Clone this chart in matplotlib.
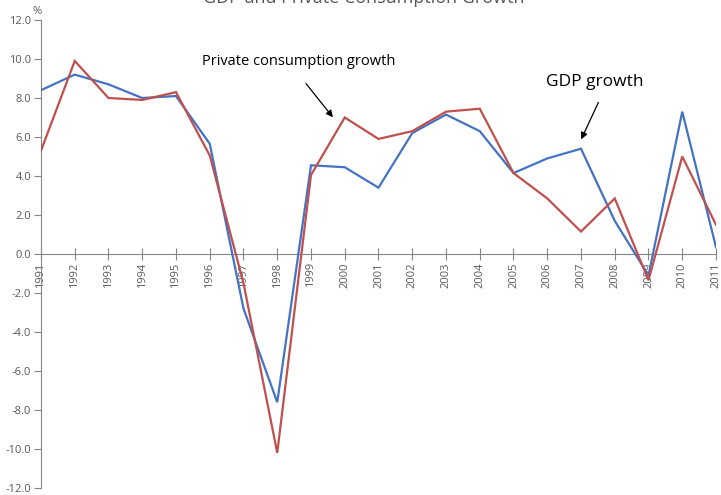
import matplotlib
matplotlib.use("Agg")
import matplotlib.pyplot as plt
import numpy as np

years = list(range(1991, 2012))
gdp_growth = [8.4, 9.2, 8.7, 8.0, 8.1, 5.65, -2.8, -7.6, 4.55, 4.45, 3.4, 6.2, 7.15,
              6.3, 4.15, 4.9, 5.4, 1.7, -1.1, 7.3, 0.35]
consumption_growth = [5.3, 9.9, 8.0, 7.9, 8.3, 5.05, -1.5, -10.2, 4.05, 7.0, 5.9, 6.3, 7.3,
                      7.45, 4.15, 2.85, 1.15, 2.85, -1.35, 5.0, 1.5]
y_ticks = np.arange(-12, 12.1, 2)

plt.rcParams["font.family"] = ["Open Sans", "DejaVu Sans"]
txt_gray = "#595959"
axis_gray = "#868686"

fig = plt.figure(figsize=(7.21, 4.95), dpi=100)
ax = fig.add_axes([41 / 721, 7 / 495, 675 / 721, 468 / 495])

ax.plot(years, gdp_growth, color="#4472C4", lw=1.6, solid_joinstyle="miter", zorder=3)
ax.plot(years, consumption_growth, color="#C0504D", lw=1.6, solid_joinstyle="miter", zorder=3)

ax.set_xlim(years[0], years[-1])
ax.set_ylim(-12, 12)

for s in ("top", "right"):
    ax.spines[s].set_visible(False)
ax.spines["bottom"].set_position(("data", 0))
ax.spines["left"].set_color(axis_gray)
ax.spines["bottom"].set_color(axis_gray)

ax.set_yticks(y_ticks)
ax.set_yticklabels([f"{v:.1f}" for v in y_ticks], fontsize=8, color=txt_gray)
ax.tick_params(axis="y", direction="out", length=5, color=axis_gray, pad=2)

ax.set_xticks(years)
ax.set_xticklabels([str(y) for y in years], rotation=90, fontsize=8,
                   color=txt_gray, va="top")
ax.tick_params(axis="x", direction="inout", length=8, color=axis_gray, pad=2)

fig.text(37 / 721, 1 - 11 / 495, "%", fontsize=8, color=txt_gray, ha="center", va="center")
fig.text(364 / 721, 1 - 3 / 495, "GDP and Private Consumption Growth", fontsize=13,
         color=txt_gray, ha="center", va="baseline")

ax.annotate("", xy=(1999.7, 6.9), xytext=(1998.8, 8.85),
            arrowprops=dict(arrowstyle="-|>", color="black", lw=0.9, mutation_scale=10))
ax.text(1998.65, 9.85, "Private consumption growth", fontsize=10.5, color="black",
        ha="center", va="center")

ax.annotate("", xy=(2006.97, 5.75), xytext=(2007.55, 7.9),
            arrowprops=dict(arrowstyle="-|>", color="black", lw=0.9, mutation_scale=10))
ax.text(2007.4, 8.8, "GDP growth", fontsize=12.5, color="black", ha="center", va="center")

fig.savefig("out.png", dpi=100)
